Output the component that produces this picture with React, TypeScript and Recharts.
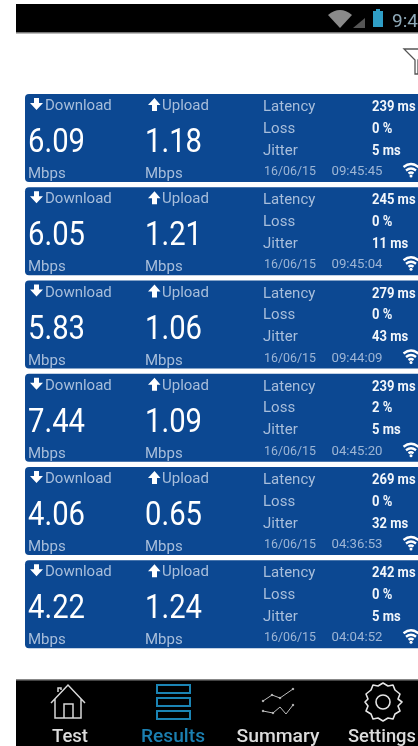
import { BarChart, Bar, XAxis, YAxis } from "recharts";

const download = [6.09, 6.05, 5.83, 7.44, 4.06, 4.22];
const upload = [1.18, 1.21, 1.06, 1.09, 0.65, 1.24];
const latency = [239, 245, 279, 239, 269, 242];
const loss = [0, 0, 0, 2, 0, 0];
const jitter = [5, 11, 43, 5, 32, 5];
const dates = ["16/06/15", "16/06/15", "16/06/15", "16/06/15", "16/06/15", "16/06/15"];
const times = ["09:45:45", "09:45:04", "09:44:09", "04:45:20", "04:36:53", "04:04:52"];
const navItems = ["Test", "Results", "Summary", "Settings"];

const rows = download.map((d, i) => ({
  id: i,
  full: 1,
  download: d.toFixed(2),
  upload: upload[i].toFixed(2),
  latency: latency[i],
  loss: loss[i],
  jitter: jitter[i],
  date: dates[i],
  time: times[i],
}));

const FONT = "Roboto, sans-serif";
const LABEL = "#a8bedb";
const CARD = "#0c4892";

const WifiIcon = ({ x, y, color, s = 1 }: any) => (
  <g transform={`translate(${x},${y}) scale(${s})`} fill="none" stroke={color} strokeWidth={2.3}>
    <path d="M0.5 4 Q8 -2 15.5 4" />
    <path d="M3 7.5 Q8 3.5 13 7.5" />
    <path d="M5.5 10.5 Q8 8.5 10.5 10.5" />
    <circle cx={8} cy={13} r={1.5} fill={color} stroke="none" />
  </g>
);

const Card = (props: any) => {
  const { x, y, width, height, payload } = props;
  const label = { fontFamily: FONT, fontSize: 15, fill: LABEL };
  const val = { fontFamily: FONT, fontSize: 14, fontWeight: 700, fill: "#f2f6fb" };
  const big = { fontFamily: FONT, fontSize: 34, fontWeight: 400, fill: "#fff", textLength: 57, lengthAdjust: "spacingAndGlyphs" };
  const valX = x + 347;
  return (
    <g>
      <rect x={x} y={y} width={width + 6} height={height} rx={4} fill={CARD} />
      <path d={`M${x + 9} ${y + 4}h5v5h4l-6.5 7l-6.5 -7h4z`} fill="#fff" />
      <text x={x + 20} y={y + 16} {...label}>Download</text>
      <path d={`M${x + 127} ${y + 17}h5v-6h3.5l-6 -7l-6.5 7h4z`} fill="#fff" />
      <text x={x + 137} y={y + 16} {...label}>Upload</text>

      <text x={x + 3} y={y + 58} {...big}>{payload.download}</text>
      <text x={x + 120} y={y + 58} {...big}>{payload.upload}</text>
      <text x={x + 3} y={y + 84} {...label}>Mbps</text>
      <text x={x + 120} y={y + 84} {...label}>Mbps</text>

      <text x={x + 238} y={y + 17} {...label}>Latency</text>
      <text x={x + 238} y={y + 38.5} {...label}>Loss</text>
      <text x={x + 238} y={y + 60.5} {...label}>Jitter</text>
      <text transform={`translate(${valX},${y + 17}) scale(0.93,1)`} {...val}>{payload.latency} ms</text>
      <text transform={`translate(${valX},${y + 38.5}) scale(0.93,1)`} {...val}>{payload.loss} %</text>
      <text transform={`translate(${valX},${y + 60.5}) scale(0.93,1)`} {...val}>{payload.jitter} ms</text>
      <text x={x + 239} y={y + 81} fontFamily={FONT} fontSize={13.5} fill="#9db5d5" textLength={52} lengthAdjust="spacingAndGlyphs">{payload.date}</text>
      <text x={x + 306.5} y={y + 81} fontFamily={FONT} fontSize={13.5} fill="#9db5d5" textLength={51} lengthAdjust="spacingAndGlyphs">{payload.time}</text>
      <WifiIcon x={x + 378} y={y + 69} color="#fff" />
    </g>
  );
};

const Chrome = () => (
  <svg width={418} height={746} style={{ position: "absolute", left: 0, top: 0 }}>
    {/* status bar */}
    <rect x={16} y={4} width={402} height={29} fill="#000" />
    <rect x={16} y={32} width={402} height={1.5} fill="#777" />
    <path d="M328 15 Q340 5 352 15 L340 28 Z" fill="#8a8a8a" />
    <path d="M353 28 L365 18 V28 Z" fill="#555" />
    <rect x={373} y={11} width={10} height={16} fill="#2f9ec6" />
    <rect x={376} y={9} width={4} height={2} fill="#2f9ec6" />
    <text x={392} y={27} fontFamily={FONT} fontSize={19} fill="#8fa9b8">9:4</text>
    {/* filter icon */}
    <path d="M404 49 H425 L418 60 V74 H415 V60 Z" fill="#fff" stroke="#555" strokeWidth={1.3} />

    {/* bottom nav */}
    <rect x={16} y={680} width={402} height={66} fill="#000" />
    <rect x={16} y={679} width={402} height={1.5} fill="#888" />
    <g fill="none" stroke="#d8d8d8" strokeWidth={1.5}>
      <path d="M51 703 L68 685 L85 703 M55 699 V718 H81 V699 M64 718 V704 H73 V718 M58 692 V688 H61 V690" />
    </g>
    <g fill="none" stroke="#1b84b4" strokeWidth={2}>
      <rect x={157} y={685} width={33} height={8} />
      <rect x={157} y={698} width={33} height={8} />
      <rect x={157} y={711} width={33} height={8} />
    </g>
    <g fill="#bdbdbd" stroke="#bdbdbd" strokeWidth={1}>
      <path fill="none" d="M263 701 L272 695 L280 698 L293 689" />
      <path fill="none" d="M263 711 L273 713 L280 707 L286 714 L293 705" />
      <circle cx={263} cy={701} r={0.8} />
      <circle cx={272} cy={695} r={0.8} />
      <circle cx={280} cy={698} r={0.8} />
      <circle cx={293} cy={689} r={0.8} />
      <circle cx={263} cy={711} r={0.8} />
      <circle cx={273} cy={713} r={0.8} />
      <circle cx={293} cy={705} r={0.8} />
    </g>
    <g fill="none" stroke="#e4e4e4" strokeWidth={1.6} strokeLinejoin="round">
      <circle cx={383} cy={702} r={7} />
      <path d="M378 686 L383 683 L388 686 L393 685 L395 690 L400 694 L398 699 L402 702 L398 706 L400 711 L395 714 L393 719 L388 718 L383 721 L378 718 L373 719 L371 714 L366 711 L368 706 L365 702 L368 699 L366 694 L371 690 L373 685 Z" />
    </g>
    {navItems.map((name, i) => (
      <text
        key={name}
        x={[70, 173, 278, 382][i]}
        y={741.5}
        textAnchor="middle"
        fontFamily={FONT}
        fontSize={18.5}
        fontWeight={500}
        fill={i === 1 ? "#1b7fb0" : "#dcdcdc"}
        textLength={[36, 64, 83, 68][i]}
        lengthAdjust="spacingAndGlyphs"
      >
        {name}
      </text>
    ))}
  </svg>
);

const App = () => {
  return (
    <div style={{ position: "absolute", left: 0, top: 0, width: 418, height: 746, overflow: "hidden", background: "#fff", filter: "blur(0.4px)" }}>
      <Chrome />
      <div style={{ position: "absolute", left: 0, top: 0 }}>
        <BarChart
          width={418}
          height={746}
          data={rows}
          layout="vertical"
          margin={{ top: 91, right: 0, bottom: 95.5, left: 25 }}
          barCategoryGap={0}
        >
          <XAxis type="number" domain={[0, 1]} hide />
          <YAxis type="category" dataKey="id" hide />
          <Bar dataKey="full" barSize={88} shape={<Card />} isAnimationActive={false} />
        </BarChart>
      </div>
    </div>
  );
};

export default App;
